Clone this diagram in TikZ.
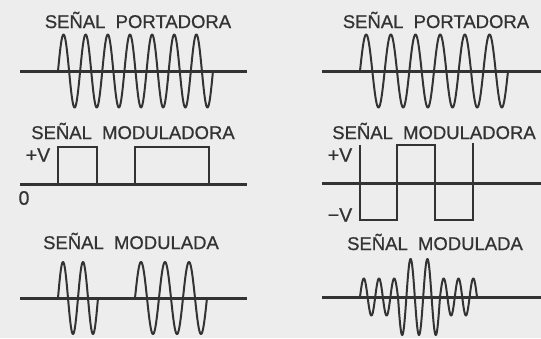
\documentclass[tikz,border=0pt]{standalone}
\usepackage{fontspec}
\setmainfont{Liberation Sans}
\newfontfamily\sgfont{Liberation Sans}[FakeBold=0.7]
\usetikzlibrary{positioning}
\tikzset{
  sgaxis/.style={draw=black!80, line width=3pt},
  sgwave/.style={draw=black!80, line width=2pt, line join=round},
  sgsquare/.style={draw=black!80, line width=1.8pt, line join=miter},
  sgtitle/.style={font=\sgfont\fontsize{18.5}{20}\selectfont, text=black!80, inner sep=0pt},
  sglevel/.style={font=\sgfont\fontsize{19.5}{20}\selectfont, text=black!80, inner sep=0pt}
}
\newcommand{\sgsep}{\hspace{0.55em}}

\begin{document}
\begin{tikzpicture}[x=1pt,y=-1pt]
  \path[use as bounding box, fill=black!7] (0,0) rectangle (541,338);

  % Left column: carrier
  \node[sgtitle] (portL) at (138,20) {SEÑAL\sgsep PORTADORA};
  \draw[sgaxis] (20,71) -- (247,71);
  \draw[sgwave] plot[domain=58:213,samples=300] (\x,{71-36.5*sin((\x-58)/22.14*360)});

  % Left column: modulating signal
  \node[sgtitle] (modL) at (133,131) {SEÑAL\sgsep MODULADORA};
  \draw[sgaxis] (20,184) -- (247,184);
  \draw[sgsquare] (58,184) -- (58,147) -- (97,147) -- (97,184);
  \draw[sgsquare] (135,184) -- (135,147) -- (209,147) -- (209,184);
  \node[sglevel] (vpL) at (38,155) {+V};
  \node[sglevel] (zeroL) at (24,198) {0};

  % Left column: modulated signal
  \node[sgtitle] (mdaL) at (131,241) {SEÑAL\sgsep MODULADA};
  \draw[sgaxis] (20,298) -- (247,298);
  \draw[sgwave] plot[domain=58:98,samples=120] (\x,{298-36*sin((\x-58)/20*360)});
  \draw[sgwave] plot[domain=135:207,samples=200] (\x,{298-36*sin((\x-135)/24*360)});

  % Right column: carrier
  \node[sgtitle] (portR) at (436,20) {SEÑAL\sgsep PORTADORA};
  \draw[sgaxis] (322,71) -- (541,71);
  \draw[sgwave] plot[domain=360:508,samples=300] (\x,{71-36.5*sin((\x-360)/24.67*360)});

  % Right column: modulating signal
  \node[sgtitle] (modR) at (434,131) {SEÑAL\sgsep MODULADORA};
  \draw[sgaxis] (322,183) -- (541,183);
  \draw[sgsquare] (360,145) -- (360,220) -- (397,220) -- (397,145)
    -- (435,145) -- (435,220) -- (473,220) -- (473,143);
  \node[sglevel] (vpR) at (340,155) {+V};
  \node[sglevel] (vmR) at (340,215) {−V};

  % Right column: modulated signal
  \node[sgtitle] (mdaR) at (435,242) {SEÑAL\sgsep MODULADA};
  \draw[sgaxis] (322,297) -- (541,297);
  \draw[sgwave] plot[domain=360:398,samples=120] (\x,{297-18.5*sin((\x-360)/7.6*180)})
    -- plot[domain=398:440,samples=150] (\x,{297+38*sin((\x-398)/8.4*180)})
    -- plot[domain=440:477,samples=120] (\x,{297-18.5*sin((\x-440)/7.4*180)});
\end{tikzpicture}
\end{document}
